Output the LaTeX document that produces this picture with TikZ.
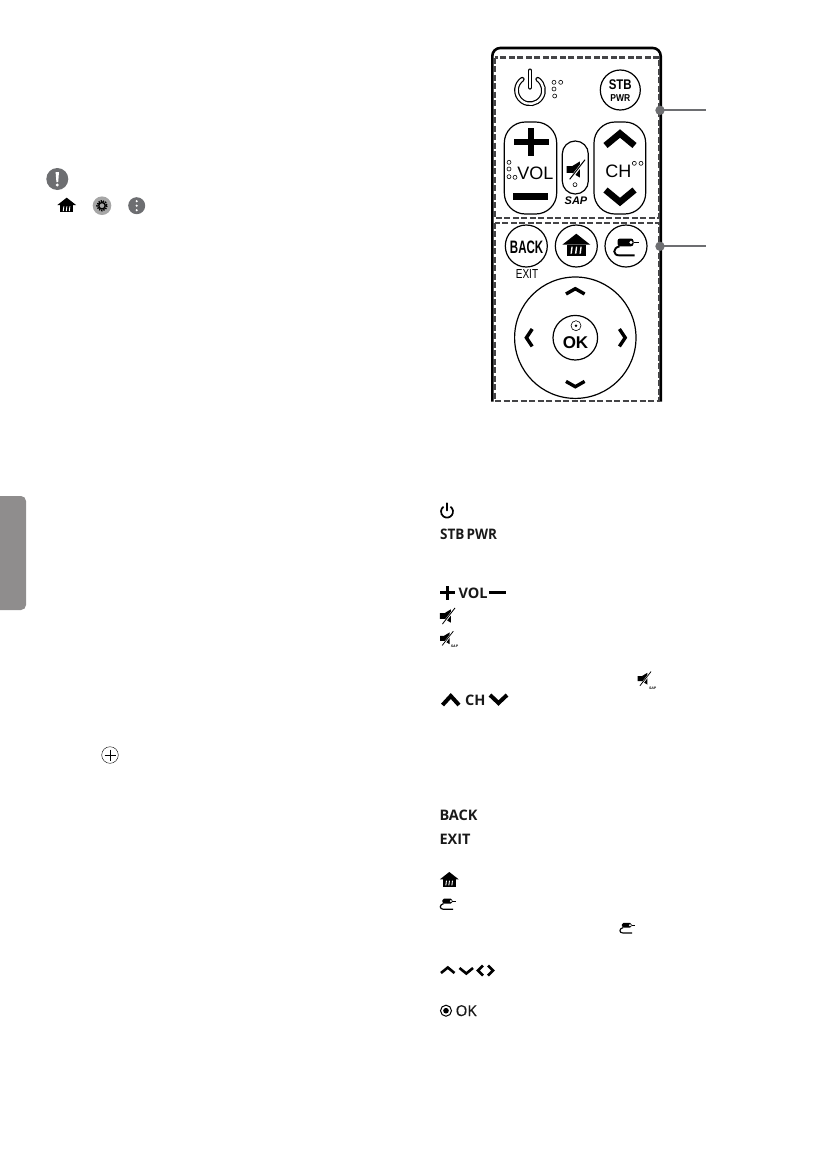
\documentclass[tikz,border=0pt]{standalone}
\usepackage{fontspec}
\setsansfont{Liberation Sans}
\newfontfamily\keyfont{Open Sans}
\newfontfamily\okfont[FakeBold=0.5]{Open Sans}
\usetikzlibrary{calc}

\definecolor{dashgrey}{HTML}{444446}
\definecolor{dotgrey}{HTML}{6D6E71}
\definecolor{tabgrey}{HTML}{8F8D8D}

\tikzset{
	btn/.style = {draw, line width = 1.2pt, fill = white},
	hint/.style = {draw = dashgrey, line width = 2.2pt, dash pattern = on 6pt off 2.5pt},
	callout/.style = {draw = dotgrey, line width = 1.7pt},
	dimple/.style = {draw, line width = 0.6pt},
	chevron/.style = {draw, line width = #1, miter limit = 10},
	keylabel/.style = {inner sep = 0pt, font = \sffamily},
	listlabel/.style = {inner sep = 0pt, anchor = base west, text = black!90},
	pics/home/.style = {code = {
		\begin{scope}[scale = #1]
		\fill (0,-12) -- (14,-1) -- (-14,-1) -- cycle;
		\fill (-9.5,-1) rectangle (9.5,10);
		\foreach \s in {-4.5,0,4.5}
			\fill [white] ($ (\s,1) + (0.9,0) $) -- ($ (\s,1) + (-0.4,0) $) -- ($ (\s,8) + (-1.4,0) $) -- ($ (\s,8) + (0.1,0) $) -- cycle;
		\end{scope}
	}},
	pics/source/.style = {code = {
		\begin{scope}[scale = #1]
		\fill [rounded corners = #1*2.5pt] (-9,-8.5) rectangle (7,-0.7);
		\fill [white] (4.5,-4.6) circle [radius = 1.7];
		\draw [line width = #1*1.3pt] (7,-4.6) -- (12,-4.6);
		\draw [line width = #1*1.9pt] (-7,-0.7) .. controls (-14,1) and (-14,8.4) .. (-7,8.4) -- (8,8.4);
		\end{scope}
	}},
	pics/mute/.style = {code = {
		\begin{scope}[scale = #1]
		\fill (-9.5,-4) -- (-3,-4) -- (6,-9.5) -- (6,9.5) -- (-3,4) -- (-9.5,4) -- cycle;
		\draw [white, line width = #1*3pt] (12,-11) -- (-5,11);
		\draw [line width = #1*1.2pt] (12,-11.5) -- (-6,11.5);
		\end{scope}
	}},
	pics/onoff/.style = {code = {
		\draw [line width = 4.8pt, line cap = round] (305:13.5) arc [start angle = 305, end angle = 595, radius = 13.5];
		\draw [line width = 4.8pt, line cap = round] (0,-3) -- (0,-19.5);
		\draw [white, line width = 2.4pt, line cap = round] (305:13.5) arc [start angle = 305, end angle = 595, radius = 13.5];
		\draw [white, line width = 2.4pt, line cap = round] (0,-3) -- (0,-19.5);
	}},
}

\begin{document}
\begin{tikzpicture}[x = 1pt, y = -1pt]
	\useasboundingbox (0,0) rectangle (812,1163);

	\def\rbtn{21};
	\def\rjoy{60.7};

	% side tab
	\fill [tabgrey] (0,496) -- (21,496) arc [start angle = 270, end angle = 360, radius = 5] -- (26,605) arc [start angle = 0, end angle = 90, radius = 5] -- (0,610) -- cycle;

	% note icons
	\fill [dotgrey] (57.3,179) circle [radius = 11];
	\fill [white] (55.6,172) -- (59,172) -- (58.2,182) -- (56.4,182) -- cycle;
	\fill [white] (57.3,185) circle [radius = 1.6];
	\pic at (66.7,205.7) {home = 0.67};
	\fill [black!35] (102,205.7) circle [radius = 9.3];
	\draw [line width = 1.8pt, dash pattern = on 1.3pt off 1pt] (102,205.7) circle [radius = 4.8];
	\draw [line width = 1.3pt] (102,205.7) circle [radius = 3.2];
	\fill [dotgrey] (136.7,205.7) circle [radius = 8.5];
	\foreach \y in {-4.5,0,4.5}
		\fill [white] (136.7,205.7+\y) circle [radius = 1.2];

	% circled plus in the text
	\draw [line width = 0.4pt] (110,755) circle [radius = 8.3];
	\draw [line width = 0.8pt] (104.5,755) -- (115.5,755);
	\draw [line width = 0.8pt] (110,749.5) -- (110,760.5);

	% remote body
	\draw [line width = 2.6pt] (492.3,401.5) -- (492.3,56) arc [start angle = 180, end angle = 270, radius = 8] -- (652.7,48) arc [start angle = 270, end angle = 360, radius = 8] -- (660.7,401.5);
	\draw [hint] (494.5,57.5) rectangle (659,217.7);
	\draw [hint] (494.5,222.7) rectangle (659,400.7);

	% upper keys
	\pic at (530,90.3) {onoff};
	\foreach \x/\y in {554/82.3, 560.7/82.3, 554/89, 554.7/96}
		\draw [dimple] (\x,\y) circle [radius = 2];

	\draw [btn] (620.3,90) circle [radius = 20];
	\node (stb) [keylabel, font = \sffamily\bfseries\fontsize{14}{14}\selectfont, xscale = 0.82] at (620.3,85) {STB};
	\node (pwr) [keylabel, font = \sffamily\bfseries\fontsize{10}{10}\selectfont, xscale = 0.85] at (620.3,98.5) {PWR};

	\draw [btn, rounded corners = 21pt] (504.3,122) rectangle (556.7,214);
	\fill (513.5,138.7) rectangle (548.5,144.7);
	\fill (528,127.7) rectangle (534,155.7);
	\fill (513.3,193) rectangle (548.3,200);
	\node (vol) [keylabel, font = \sffamily\fontsize{18}{18}\selectfont] at (535.3,172.8) {VOL};
	\foreach \x/\y in {509/162.3, 509/169, 509/176.7, 515/177.3}
		\draw [dimple] (\x,\y) circle [radius = 2];

	\draw [btn, rounded corners = 12.9pt] (562.3,141) rectangle (588.3,194);
	\pic at (574.8,169.5) {mute = 0.85};
	\draw [dimple] (575,184.7) circle [radius = 2];
	\node (sap) [keylabel, font = \sffamily\bfseries\itshape\fontsize{11}{11}\selectfont] at (576,200.3) {SAP};

	\draw [btn, rounded corners = 21pt] (594,122) rectangle (645.7,214);
	\draw [chevron = 6.5pt] (605.5,145.5) -- (620,133.5) -- (634.5,145.5);
	\draw [chevron = 6.5pt] (605.5,190) -- (620,202) -- (634.5,190);
	\node (ch) [keylabel, font = \sffamily\fontsize{18}{18}\selectfont] at (618.3,170.8) {CH};
	\foreach \x in {634.3, 641}
		\draw [dimple] (\x,163.3) circle [radius = 2];

	% lower keys
	\draw [btn] (526.3,246) circle [radius = \rbtn];
	\node (back) [keylabel, font = \sffamily\bfseries\fontsize{18}{18}\selectfont, xscale = 0.64] at (526.6,247) {BACK};
	\node (exit) [keylabel, font = \sffamily\fontsize{13}{13}\selectfont, xscale = 0.77] at (527,274) {EXIT};

	\draw [btn] (576.3,246) circle [radius = \rbtn];
	\pic at (576.3,245.7) {home = 1};

	\draw [btn] (626,246) circle [radius = \rbtn];
	\pic at (626.5,247) {source = 1};

	\draw [btn] (575.3,337.7) circle [radius = \rjoy];
	\draw [chevron = 3.4pt] (566,294) -- (575.3,288.7) -- (584.6,294);
	\draw [chevron = 3.4pt] (566,381.4) -- (575.3,386.7) -- (584.6,381.4);
	\draw [chevron = 3.4pt] (532.2,329) -- (526.4,337.7) -- (532.2,346.4);
	\draw [chevron = 3.4pt] (619.4,329) -- (625.2,337.7) -- (619.4,346.4);

	\draw [btn] (575.3,337.7) circle [radius = 22.3];
	\draw [line width = 0.6pt] (576,325.7) circle [radius = 5];
	\fill (576,325.7) circle [radius = 1.4];
	\node (ok) [keylabel, font = \sffamily\bfseries\fontsize{17}{17}\selectfont] at (575.5,342.8) {OK};

	% callouts
	\coordinate (upper end) at (705.7,110.3);
	\coordinate (lower end) at (705.7,246.3);
	\fill [dotgrey] (660,110.3) coordinate (upper dot) circle [radius = 4.7];
	\fill [dotgrey] (660,246.3) coordinate (lower dot) circle [radius = 4.7];
	\draw [callout] (upper dot) -- (upper end);
	\draw [callout] (lower dot) -- (lower end);

	% key list
	\draw [line width = 1.7pt] (447,511.6) ++(305:6) arc [start angle = 305, end angle = 595, radius = 6];
	\draw [line width = 1.7pt, line cap = round] (447,503.2) -- (447,510.5);
	\node (stb label) [listlabel, font = \keyfont\bfseries\fontsize{14.5}{14.5}\selectfont, xscale = 0.93] at (440,539) {STB\,PWR};

	\fill (440,591.4) rectangle (455,594);
	\fill (446.2,585.5) rectangle (448.8,599.5);
	\node (vol label) [listlabel, font = \keyfont\bfseries\fontsize{14.5}{14.5}\selectfont] at (458.3,598.3) {VOL};
	\fill (489,591) rectangle (506,594.3);

	\pic at (446.6,616) {mute = 0.7};
	\pic at (445.9,638.3) {mute = 0.62};
	\node (sap label) [keylabel, font = \sffamily\bfseries\itshape\fontsize{3.5}{3.5}\selectfont] at (454.5,646.7) {SAP};
	\pic at (643.6,678.7) {mute = 0.62};
	\node (sap mention) [keylabel, font = \sffamily\bfseries\itshape\fontsize{3.5}{3.5}\selectfont] at (652.7,688.7) {SAP};

	\draw [chevron = 4pt] (442.5,705) -- (450.8,696) -- (459,705);
	\node (ch label) [listlabel, font = \keyfont\bfseries\fontsize{14.5}{14.5}\selectfont] at (465,705.7) {CH};
	\draw [chevron = 4pt] (490,695) -- (498.5,703) -- (507,695);

	\node (back label) [listlabel, font = \keyfont\bfseries\fontsize{14.5}{14.5}\selectfont] at (439.3,820) {BACK};
	\node (exit label) [listlabel, font = \keyfont\bfseries\fontsize{14.5}{14.5}\selectfont] at (439.3,844.3) {EXIT};

	\pic at (449.3,880) {home = 0.67};
	\pic at (448,904) {source = 0.63};
	\pic at (627.3,928) {source = 0.6};

	\draw [chevron = 2.6pt] (441,973) -- (447.8,967.5) -- (454.5,973);
	\draw [chevron = 2.6pt] (459.5,968) -- (466.3,973.5) -- (473,968);
	\draw [chevron = 2.6pt] (483,965.5) -- (478,970.5) -- (483,975.5);
	\draw [chevron = 2.6pt] (488,965.5) -- (493,970.5) -- (488,975.5);

	\draw [line width = 1pt] (446,1010.7) circle [radius = 5.5];
	\fill (446,1010.7) circle [radius = 2.8];
	\node (ok label) [listlabel, font = \okfont\fontsize{15}{15}\selectfont] at (455.5,1016) {OK};
\end{tikzpicture}
\end{document}
